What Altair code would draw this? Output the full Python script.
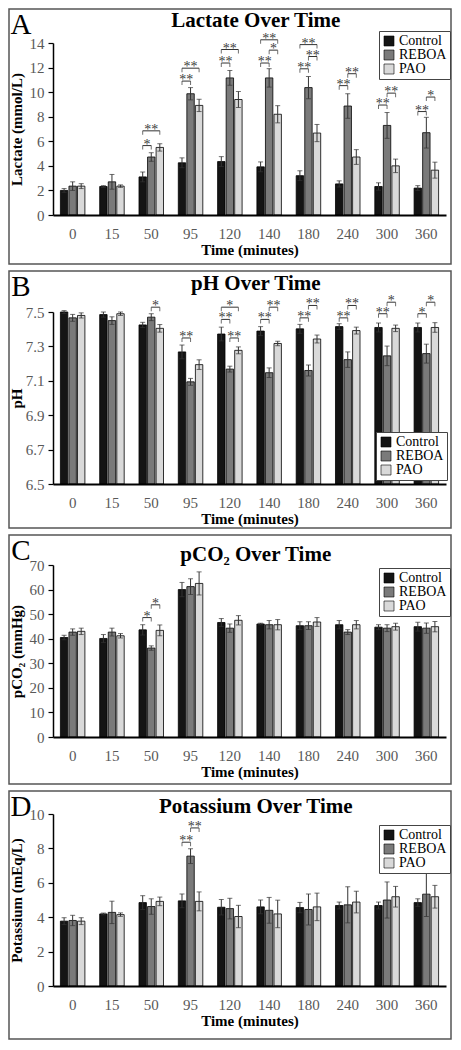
import altair as alt
import pandas as pd

times = ["0", "15", "50", "95", "120", "140", "180", "240", "300", "360"]
groups = ["Control", "REBOA", "PAO"]
colors = ["#141414", "#7a7a7a", "#d9d9d9"]

lactate_control = [2.0, 2.32, 3.1, 4.25, 4.35, 3.92, 3.2, 2.53, 2.32, 2.19]
lactate_control_err = [0.15, 0.07, 0.4, 0.4, 0.4, 0.4, 0.4, 0.25, 0.3, 0.2]
lactate_reboa = [2.35, 2.7, 4.72, 9.87, 11.16, 11.16, 10.37, 8.87, 7.29, 6.7]
lactate_reboa_err = [0.35, 0.6, 0.35, 0.5, 0.6, 0.75, 0.9, 1.0, 1.05, 1.25]
lactate_pao = [2.35, 2.35, 5.5, 8.92, 9.4, 8.2, 6.67, 4.72, 4.0, 3.65]
lactate_pao_err = [0.2, 0.1, 0.3, 0.5, 0.65, 0.7, 0.7, 0.6, 0.55, 0.65]
lactate_sig = [
    ("50", "Control", "REBOA", 5.65, "*"), ("50", "Control", "PAO", 6.85, "**"),
    ("95", "Control", "REBOA", 10.9, "**"), ("95", "Control", "PAO", 11.95, "**"),
    ("120", "Control", "REBOA", 12.37, "**"), ("120", "Control", "PAO", 13.47, "**"),
    ("140", "Control", "REBOA", 12.37, "**"), ("140", "REBOA", "PAO", 13.42, "*"),
    ("140", "Control", "PAO", 14.26, "**"),
    ("180", "Control", "REBOA", 11.9, "**"), ("180", "REBOA", "PAO", 12.9, "**"),
    ("180", "Control", "PAO", 13.87, "**"),
    ("240", "Control", "REBOA", 10.53, "**"), ("240", "REBOA", "PAO", 11.5, "**"),
    ("300", "Control", "REBOA", 8.95, "**"), ("300", "REBOA", "PAO", 9.92, "**"),
    ("360", "Control", "REBOA", 8.42, "**"), ("360", "REBOA", "PAO", 9.6, "*"),
]

ph_control = [7.50, 7.485, 7.425, 7.268, 7.372, 7.389, 7.402, 7.415, 7.41, 7.41]
ph_control_err = [0.008, 0.015, 0.015, 0.04, 0.04, 0.026, 0.026, 0.017, 0.026, 0.026]
ph_reboa = [7.466, 7.45, 7.47, 7.094, 7.168, 7.147, 7.16, 7.223, 7.245, 7.258]
ph_reboa_err = [0.02, 0.022, 0.02, 0.02, 0.017, 0.028, 0.032, 0.045, 0.057, 0.055]
ph_pao = [7.48, 7.49, 7.405, 7.194, 7.277, 7.317, 7.343, 7.392, 7.405, 7.41]
ph_pao_err = [0.015, 0.01, 0.022, 0.028, 0.02, 0.013, 0.023, 0.02, 0.019, 0.028]
ph_sig = [
    ("50", "REBOA", "PAO", 7.528, "*"), ("95", "Control", "REBOA", 7.349, "**"),
    ("120", "Control", "REBOA", 7.457, "**"), ("120", "REBOA", "PAO", 7.349, "**"),
    ("120", "Control", "PAO", 7.528, "*"),
    ("140", "Control", "REBOA", 7.457, "**"), ("140", "REBOA", "PAO", 7.528, "**"),
    ("180", "Control", "REBOA", 7.466, "**"), ("180", "REBOA", "PAO", 7.538, "**"),
    ("240", "Control", "REBOA", 7.466, "**"), ("240", "REBOA", "PAO", 7.538, "**"),
    ("300", "Control", "REBOA", 7.49, "**"), ("300", "REBOA", "PAO", 7.557, "*"),
    ("360", "Control", "REBOA", 7.49, "*"), ("360", "REBOA", "PAO", 7.557, "*"),
]

pco2_control = [40.5, 40.1, 43.6, 60.0, 46.6, 46.0, 45.3, 45.7, 44.7, 44.9]
pco2_control_err = [0.9, 1.6, 2.1, 2.9, 1.6, 0.3, 1.6, 1.7, 1.0, 1.8]
pco2_reboa = [42.7, 42.7, 36.2, 61.2, 44.3, 45.7, 45.3, 42.7, 44.3, 44.3]
pco2_reboa_err = [1.3, 1.6, 0.9, 3.2, 1.7, 1.7, 1.6, 1.0, 1.4, 2.1]
pco2_pao = [43.0, 41.2, 43.4, 62.5, 47.5, 45.7, 46.8, 45.7, 44.9, 44.9]
pco2_pao_err = [1.3, 0.9, 2.2, 4.7, 1.9, 2.1, 1.8, 1.7, 1.4, 2.1]
pco2_sig = [("50", "Control", "REBOA", 48.6, "*"), ("50", "REBOA", "PAO", 53.8, "*")]

k_control = [3.77, 4.19, 4.85, 4.95, 4.58, 4.6, 4.56, 4.68, 4.68, 4.85]
k_control_err = [0.2, 0.05, 0.4, 0.4, 0.45, 0.4, 0.3, 0.2, 0.2, 0.22]
k_reboa = [3.81, 4.28, 4.62, 7.55, 4.5, 4.4, 4.45, 4.72, 5.0, 5.34]
k_reboa_err = [0.3, 0.65, 0.45, 0.43, 0.6, 0.75, 0.9, 1.05, 1.05, 1.3]
k_pao = [3.77, 4.15, 4.92, 4.92, 4.04, 4.19, 4.6, 4.88, 5.19, 5.19]
k_pao_err = [0.2, 0.1, 0.25, 0.55, 0.65, 0.8, 0.8, 0.63, 0.6, 0.66]
k_sig = [("95", "Control", "REBOA", 8.36, "**"), ("95", "REBOA", "PAO", 9.19, "**")]

slots = ["Control", "C-R", "REBOA", "R-P", "PAO"]
mid_slot = {("Control", "REBOA"): "C-R", ("REBOA", "PAO"): "R-P", ("Control", "PAO"): "REBOA"}

W, H = 393, 172
LEFT, RIGHT = 44, 5
BAR_W = 7.4
SERIF = "Liberation Serif"
INK = "#333333"


def make_panel(series, sig, title, letter, ytitle, ymin, ymax, ticks, fmt,
               leg_x, leg_y, top, bottom, title_y):
    rows = []
    for g, (vals, errs) in zip(groups, series):
        for t, v, e in zip(times, vals, errs):
            rows.append({"time": t, "slot": g, "value": v, "lo": v - e, "hi": v + e, "base": ymin})
    df = pd.DataFrame(rows)
    srows, brows = [], []
    for i, (t, a, b, lvl, stars) in enumerate(sig):
        srows.append({"time": t, "slot": mid_slot[(a, b)], "level": lvl, "stars": stars})
        brows.append({"time": t, "slot": a, "level": lvl, "id": i})
        brows.append({"time": t, "slot": b, "level": lvl, "id": i})
    sdf = pd.DataFrame(srows)
    bdf = pd.DataFrame(brows)
    one = pd.DataFrame({"k": [0]})

    def xenc():
        return alt.X("time:N", sort=times,
                     scale=alt.Scale(domain=times, paddingInner=0.456, paddingOuter=0.228),
                     axis=alt.Axis(title="Time (minutes)", labelAngle=0, ticks=False,
                                   domainColor="black", domainWidth=2, grid=False, zindex=1,
                                   labelFont=SERIF, labelFontSize=15, labelColor="#595959",
                                   labelPadding=11, titleFont=SERIF, titleFontSize=15,
                                   titleFontWeight="bold", titleColor="black", titlePadding=1))

    def yenc(field):
        return alt.Y(field, type="quantitative",
                     scale=alt.Scale(domain=[ymin, ymax], zero=False, nice=False),
                     axis=alt.Axis(title=ytitle, values=ticks, format=fmt, grid=False, zindex=1,
                                   domainColor="black", domainWidth=1.5, tickColor="black",
                                   tickSize=5, tickWidth=1.2, labelFont=SERIF, labelFontSize=15,
                                   labelColor="#595959", labelPadding=4, titleFont=SERIF,
                                   titleFontSize=15, titleFontWeight="bold", titleColor="black",
                                   titleX=-37, titleY=H / 2, titleBaseline="middle"))

    xoff = alt.XOffset("slot:N", scale=alt.Scale(domain=slots, paddingInner=0, paddingOuter=0))

    border = alt.Chart(one).mark_rect(fill="white", fillOpacity=0, stroke="#555555",
                                      strokeWidth=1.5).encode(
        x=alt.value(-LEFT), x2=alt.value(W + RIGHT), y=alt.value(-top), y2=alt.value(H + bottom))

    bars = alt.Chart(df).mark_bar(size=BAR_W, stroke="black", strokeWidth=0.8).encode(
        x=xenc(), xOffset=xoff, y=yenc("value"), y2=alt.Y2("base"),
        color=alt.Color("slot:N", scale=alt.Scale(domain=groups, range=colors),
                        legend=alt.Legend(title=None, orient="none", legendX=leg_x, legendY=leg_y,
                                          symbolType="square", symbolSize=100,
                                          symbolStrokeColor="black", symbolStrokeWidth=0.6,
                                          labelFont=SERIF, labelFontSize=14, labelColor="black",
                                          labelOffset=3, rowPadding=-2, padding=3,
                                          strokeColor="#444444", fillColor="white")))

    err = alt.Chart(df).mark_rule(color=INK, strokeWidth=1).encode(
        x=xenc(), xOffset=xoff, y=yenc("lo"), y2=alt.Y2("hi"))
    cap_lo = alt.Chart(df).mark_tick(color=INK, size=5, thickness=1, orient="horizontal").encode(
        x=xenc(), xOffset=xoff, y=yenc("lo"))
    cap_hi = alt.Chart(df).mark_tick(color=INK, size=5, thickness=1, orient="horizontal").encode(
        x=xenc(), xOffset=xoff, y=yenc("hi"))

    br_line = alt.Chart(bdf).mark_line(color=INK, strokeWidth=1).encode(
        x=xenc(), xOffset=xoff, y=yenc("level"), detail="id:N")
    br_end = alt.Chart(bdf).mark_tick(color=INK, size=4, thickness=1, orient="vertical",
                                      yOffset=2).encode(
        x=xenc(), xOffset=xoff, y=yenc("level"))
    stars = alt.Chart(sdf).mark_text(font=SERIF, fontSize=14, color="#3a3a3a", opacity=0.99,
                                     baseline="alphabetic", dy=3).encode(
        x=xenc(), xOffset=xoff, y=yenc("level"), text="stars:N")

    ttl = alt.Chart(one).mark_text(font=SERIF, fontSize=21, fontWeight="bold", color="black").encode(
        x=alt.value(W * 0.516), y=alt.value(title_y), text=alt.value(title))
    let = alt.Chart(one).mark_text(font=SERIF, fontSize=29, color="black").encode(
        x=alt.value(-LEFT + 12), y=alt.value(-top + 16), text=alt.value(letter))

    return alt.layer(border, bars, err, cap_lo, cap_hi, br_line, br_end, stars, ttl, let).properties(
        width=W, height=H)


pA = make_panel([(lactate_control, lactate_control_err), (lactate_reboa, lactate_reboa_err),
                 (lactate_pao, lactate_pao_err)], lactate_sig, "Lactate Over Time", "A",
                "Lactate (mmol/L)", 0, 14, list(range(0, 15, 2)), "d",
                W - 67, -12, 34, 49, -22)
pB = make_panel([(ph_control, ph_control_err), (ph_reboa, ph_reboa_err), (ph_pao, ph_pao_err)],
                ph_sig, "pH Over Time", "B", "pH", 6.5, 7.5, [6.5, 6.7, 6.9, 7.1, 7.3, 7.5], ".1f",
                W - 70, H - 52, 41, 44, -28)
pC = make_panel([(pco2_control, pco2_control_err), (pco2_reboa, pco2_reboa_err),
                 (pco2_pao, pco2_pao_err)], pco2_sig, "pCO₂ Over Time", "C", "pCO₂ (mmHg)",
                0, 70, list(range(0, 71, 10)), "d", W - 67, 3, 30, 47, -10)
pD = make_panel([(k_control, k_control_err), (k_reboa, k_reboa_err), (k_pao, k_pao_err)],
                k_sig, "Potassium Over Time", "D", "Potassium (mEq/L)", 0, 10,
                list(range(0, 11, 2)), "d", W - 67, 11, 23, 53, -7)

chart = alt.vconcat(pA, pB, pC, pD, spacing=5).resolve_scale(color="independent").resolve_legend(
    color="independent").properties(padding=0).configure_view(strokeWidth=0)

chart.save("out.html", embed_options={"renderer": "svg", "actions": False})
